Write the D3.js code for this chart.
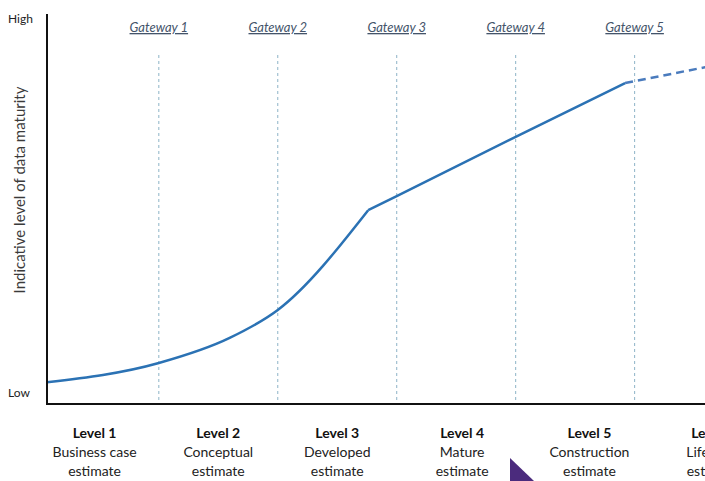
<!DOCTYPE html>
<html><head><meta charset="utf-8">
<script src="https://cdn.jsdelivr.net/npm/d3@7"></script>
<style>body{margin:0;background:#fff;}svg{display:block;font-family:Lato,"Open Sans",sans-serif;}</style>
</head><body><svg id="c" width="705" height="481"></svg>
<script>
const gateways = [1, 2, 3, 4, 5];
const gatewayLabels = ["Gateway 1", "Gateway 2", "Gateway 3", "Gateway 4", "Gateway 5"];
const levelPos = [0.46, 1.5, 2.5, 3.55, 4.62, 5.66];
const levelTitles = ["Level 1", "Level 2", "Level 3", "Level 4", "Level 5", "Level 6"];
const levelLine1 = ["Business case", "Conceptual", "Developed", "Mature", "Construction", "Lifecycle"];
const levelLine2 = ["estimate", "estimate", "estimate", "estimate", "estimate", "estimate"];
const curveX = [0.06, 1, 1.6, 2, 2.76];
const curveY = [5.6, 10.5, 17.0, 24.1, 49.7];
const straightX = [2.76, 3, 4, 4.92];
const straightY = [49.7, 53.3, 68.5, 82.3];
const dashedX = [4.92, 5.6];
const dashedY = [82.3, 86.4];
const yTickLabels = ["Low", "High"];

const svg = d3.select("#c");
const x = d3.scaleLinear().domain([0.06, 5.6]).range([47, 706]);
const y = d3.scaleLinear().domain([0, 100]).range([404, 14]);

svg.selectAll(".gw").data(gateways).enter().append("line")
  .attr("x1", d => x(d)).attr("x2", d => x(d))
  .attr("y1", 55).attr("y2", y(0))
  .attr("stroke", "#8db3c7").attr("stroke-width", 1).attr("stroke-dasharray", "3,3");

svg.selectAll(".gwl").data(gateways).enter().append("text")
  .attr("x", d => x(d)).attr("y", 32)
  .attr("text-anchor", "middle").attr("font-size", 13).attr("font-style", "italic")
  .attr("fill", "#44546a").attr("text-decoration", "underline")
  .text((d, i) => gatewayLabels[i]);

const mk = () => d3.line().x(d => x(d[0])).y(d => y(d[1]));
svg.append("path").datum(d3.zip(curveX, curveY))
  .attr("d", mk().curve(d3.curveMonotoneX))
  .attr("fill", "none").attr("stroke", "#2b72b4").attr("stroke-width", 2.5);
svg.append("path").datum(d3.zip(straightX, straightY))
  .attr("d", mk())
  .attr("fill", "none").attr("stroke", "#2b72b4").attr("stroke-width", 2.5);
svg.append("path").datum(d3.zip(dashedX, dashedY))
  .attr("d", mk())
  .attr("fill", "none").attr("stroke", "#4a7bbd").attr("stroke-width", 2.5).attr("stroke-dasharray", "8,5");

svg.append("line").attr("x1", 47).attr("x2", 47).attr("y1", y(100)).attr("y2", y(0) + 1)
  .attr("stroke", "#111").attr("stroke-width", 2);
svg.append("line").attr("x1", 46).attr("x2", 705).attr("y1", y(0)).attr("y2", y(0))
  .attr("stroke", "#111").attr("stroke-width", 2);

svg.append("text").attr("x", 8).attr("y", y(100) + 9).attr("font-size", 12).attr("fill", "#222").text(yTickLabels[1]);
svg.append("text").attr("x", 8).attr("y", y(0) - 7).attr("font-size", 12).attr("fill", "#222").text(yTickLabels[0]);

svg.append("text").attr("transform", "translate(25,190) rotate(-90)")
  .attr("text-anchor", "middle").attr("font-size", 15).attr("fill", "#3a3a3a")
  .text("Indicative level of data maturity");

const lv = svg.selectAll(".lv").data(levelPos).enter().append("g");
lv.append("text").attr("x", d => x(d)).attr("y", 438).attr("text-anchor", "middle")
  .attr("font-size", 14).attr("font-weight", "bold").attr("fill", "#111").text((d, i) => levelTitles[i]);
lv.append("text").attr("x", d => x(d)).attr("y", 457).attr("text-anchor", "middle")
  .attr("font-size", 14).attr("fill", "#222").text((d, i) => levelLine1[i]);
lv.append("text").attr("x", d => x(d)).attr("y", 476).attr("text-anchor", "middle")
  .attr("font-size", 14).attr("fill", "#222").text((d, i) => levelLine2[i]);

svg.append("path").attr("d", "M510,458 L510,481 L534,481 Z").attr("fill", "#4b2b7d");
</script></body></html>
